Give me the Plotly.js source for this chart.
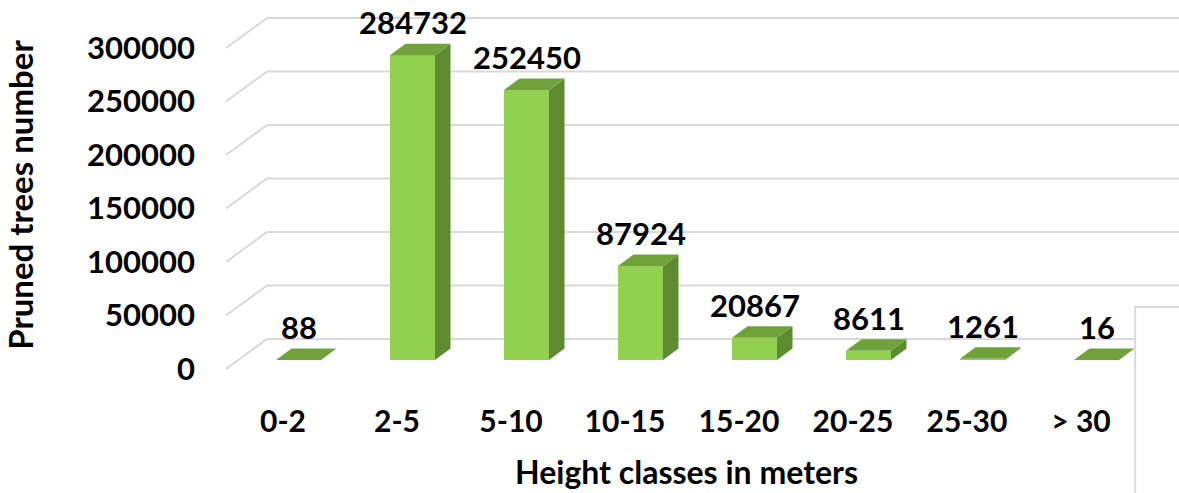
<!DOCTYPE html>
<html><head><meta charset="utf-8">
<script src="https://cdn.plot.ly/plotly-3.0.1.min.js"></script>
<style>html,body{margin:0;padding:0;background:#fff}#chart{width:1179px;height:493px}</style>
</head><body><div id="chart"></div>
<script>
// ---- data ----
const categories = ['0-2', '2-5', '5-10', '10-15', '15-20', '20-25', '25-30', '> 30'];
const prunedTrees = [88, 284732, 252450, 87924, 20867, 8611, 1261, 16];
const yTickValues = [0, 50000, 100000, 150000, 200000, 250000, 300000];
const yTickLabels = ['0', '50000', '100000', '150000', '200000', '250000', '300000'];
const xTitle = 'Height classes in meters';
const yTitle = 'Pruned trees number';

// ---- pseudo-3D geometry (styling) ----
const PXU = 114;            // px per category unit
const PXV = 1.07 / 1000;    // px per value unit
const wallDX = 41 / PXU, wallDY = 30 / PXV;     // back wall offset
const barOX = 15.5 / PXU, barOY = 9 / PXV;      // bar front face offset from front plane
const barW = 45 / PXU;
const barDX = 15.5 / PXU, barDY = 11.5 / PXV;   // bar depth

const FONT = 'Lato, "Open Sans", sans-serif';
const idx = categories.map((c, i) => i);
const barX = idx.map(i => i + barOX);

// back wall gridlines as shapes below traces
const shapes = [];
yTickValues.forEach(v => {
  shapes.push({type: 'line', xref: 'x', yref: 'y', layer: 'below',
    x0: -0.5, y0: v, x1: -0.5 + wallDX, y1: v + wallDY,
    line: {color: '#d9d9d9', width: 2}});
  shapes.push({type: 'line', xref: 'x', yref: 'y', layer: 'below',
    x0: -0.5 + wallDX, y0: v + wallDY, x1: 9, y1: v + wallDY,
    line: {color: '#d9d9d9', width: 2}});
});
// overlapping white panel at the lower right (as in the source image)
shapes.push({type: 'rect', xref: 'paper', yref: 'paper', layer: 'above',
  x0: 0.954, x1: 1.1, y0: 0.213, y1: -0.4,
  fillcolor: '#ffffff', line: {color: '#d9d9d9', width: 2}});

// side and top faces
const sideX = [], sideY = [], topX = [], topY = [];
prunedTrees.forEach((v, i) => {
  const xl = barX[i] - barW / 2, xr = barX[i] + barW / 2;
  const b = barOY, t = barOY + v;
  sideX.push(xr, xr + barDX, xr + barDX, xr, xr, null);
  sideY.push(b, b + barDY, t + barDY, t, b, null);
  topX.push(xl, xr, xr + barDX, xl + barDX, xl, null);
  topY.push(t, t, t + barDY, t + barDY, t, null);
});

const traces = [
  {type: 'bar', x: barX, y: prunedTrees, base: barOY, width: barW,
   marker: {color: '#92D050', line: {width: 0}}, hoverinfo: 'skip', showlegend: false},
  {type: 'scatter', mode: 'lines', x: sideX, y: sideY, fill: 'toself',
   fillcolor: '#5F8B30', line: {width: 0, color: '#5F8B30'}, hoverinfo: 'skip', showlegend: false},
  {type: 'scatter', mode: 'lines', x: topX, y: topY, fill: 'toself',
   fillcolor: '#70A23C', line: {width: 0, color: '#70A23C'}, hoverinfo: 'skip', showlegend: false}
];

const annotations = prunedTrees.map((v, i) => ({
  x: barX[i], y: barOY + v, xref: 'x', yref: 'y', text: String(v),
  showarrow: false, yanchor: 'middle', xanchor: 'center', yshift: 33,
  font: {family: FONT, size: 31, color: '#000', weight: 700}
}));
annotations.push({
  x: (686 - 226) / 953, xref: 'paper', y: (390 - 472) / 390, yref: 'paper',
  yanchor: 'middle', xanchor: 'center', text: xTitle, showarrow: false,
  font: {family: FONT, size: 32, color: '#000', weight: 700}
});

const layout = {
  width: 1179, height: 493,
  margin: {l: 226, r: 0, t: 0, b: 103},
  paper_bgcolor: '#ffffff', plot_bgcolor: '#ffffff',
  showlegend: false,
  font: {family: FONT, color: '#000'},
  xaxis: {
    range: [-0.5, -0.5 + 953 / PXU], tickvals: idx, ticktext: categories,
    showgrid: false, zeroline: false, showline: false, ticks: '',
    ticklabelstandoff: 11,
    tickfont: {family: FONT, size: 30, color: '#000', weight: 700}, fixedrange: true
  },
  yaxis: {
    range: [-(390 - 369) / PXV, 369 / PXV], tickvals: yTickValues, ticktext: yTickLabels,
    showgrid: false, zeroline: false, showline: false, ticks: '',
    ticklabelstandoff: 30,
    tickfont: {family: FONT, size: 31, color: '#000', weight: 700},
    title: {text: yTitle, font: {family: FONT, size: 33, color: '#000', weight: 700}, standoff: 48},
    fixedrange: true
  },
  shapes: shapes,
  annotations: annotations,
  bargap: 0
};

Plotly.newPlot('chart', traces, layout, {staticPlot: true, displayModeBar: false});
</script>
</body></html>
